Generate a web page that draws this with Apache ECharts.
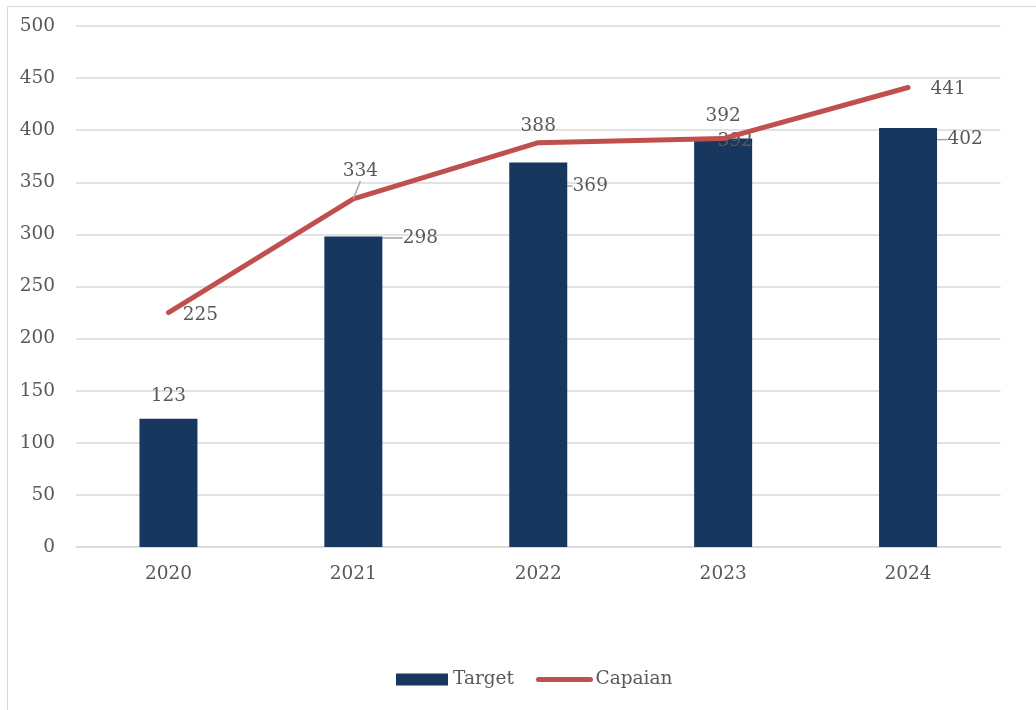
<!DOCTYPE html>
<html><head><meta charset="utf-8">
<script src="https://cdn.jsdelivr.net/npm/echarts@6/dist/echarts.min.js"></script>
<style>
html,body{margin:0;padding:0;background:#fff;overflow:hidden;}
#frame{position:absolute;left:7px;top:6px;width:1050px;height:730px;border:1.5px solid #d9d9d9;box-sizing:border-box;}
#c{position:absolute;left:0;top:0;width:1036px;height:710px;}
</style></head>
<body>
<div id="frame"></div>
<div id="c"></div>
<script>
var categories = ['2020','2021','2022','2023','2024'];
var targetValues = [123, 298, 369, 392, 402];
var capaianValues = [225, 334, 388, 392, 441];
var yTicks = {min: 0, max: 500, interval: 50};

var FONT = 'DejaVu Serif';
var FS = 18.5;
var TXT = '#595959';
var barOff = [[0,-8],[67,16],[52,38],[12,17],[57,26]];
var barLead = [false, true, true, false, true];
var lineOff = [[32,17],[7,-13],[0,-2],[0,-8],[40,16]];
var lineLead = [false, true, false, false, false];

function items(vals, lead) {
  return vals.map(function (v, i) { return {value: v, labelLine: {show: lead[i]}}; });
}

var chart = echarts.init(document.getElementById('c'));
chart.setOption({
  animation: false,
  textStyle: {fontFamily: FONT},
  grid: {left: 76, right: 35.5, top: 26, bottom: 163},
  legend: {
    bottom: 16, left: 391,
    itemWidth: 52, itemHeight: 12, itemGap: 22,
    textStyle: {fontFamily: FONT, fontSize: FS, color: TXT},
    lineStyle: {width: 5, cap: 'round'},
    data: [{name: 'Target', icon: 'rect'}, {name: 'Capaian', itemStyle: {opacity: 0}}]
  },
  xAxis: {
    type: 'category', data: categories,
    axisLine: {lineStyle: {color: '#d9d9d9', width: 1.5}},
    axisTick: {show: false},
    axisLabel: {fontFamily: FONT, fontSize: FS, color: TXT, margin: 18}
  },
  yAxis: {
    type: 'value', min: yTicks.min, max: yTicks.max, interval: yTicks.interval,
    axisLine: {show: false}, axisTick: {show: false},
    axisLabel: {fontFamily: FONT, fontSize: FS, color: TXT, margin: 21},
    splitLine: {lineStyle: {color: '#d9d9d9', width: 1.5}}
  },
  series: [
    {
      name: 'Target', type: 'bar', data: items(targetValues, barLead), barWidth: 58,
      itemStyle: {color: '#17375E'},
      label: {show: true, position: 'top', fontFamily: FONT, fontSize: FS, color: TXT},
      labelLine: {show: true, lineStyle: {color: '#a6a6a6', width: 1.5}},
      labelLayout: function (p) { var o = barOff[p.dataIndex]; return {dx: o[0], dy: o[1]}; }
    },
    {
      name: 'Capaian', type: 'line', data: items(capaianValues, lineLead),
      symbol: 'circle', symbolSize: 0.1, showSymbol: true,
      lineStyle: {color: '#C0504D', width: 5, cap: 'round', join: 'round'},
      itemStyle: {color: '#C0504D'},
      label: {show: true, position: 'top', fontFamily: FONT, fontSize: FS, color: TXT},
      labelLine: {show: true, lineStyle: {color: '#a6a6a6', width: 1.5}},
      labelLayout: function (p) { var o = lineOff[p.dataIndex]; return {dx: o[0], dy: o[1]}; }
    }
  ]
});
</script>
</body></html>
